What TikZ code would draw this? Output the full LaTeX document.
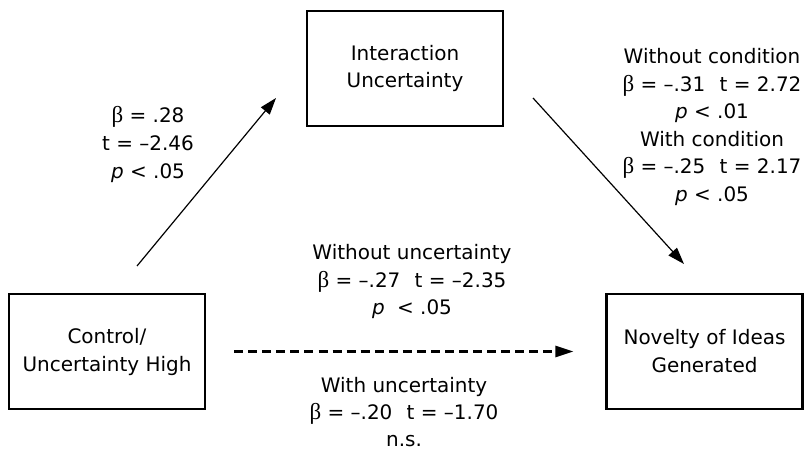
\documentclass[tikz,border=0pt]{standalone}
\usepackage{fontspec}
\setmainfont{DejaVu Sans}
\newfontfamily\greekfont[Scale=1.15]{Liberation Serif}
\usetikzlibrary{arrows.meta}
\newcommand{\betaSym}{{\greekfont β}}

\begin{document}
\begin{tikzpicture}[boxStyle/.style={rectangle, draw, line width=1.7pt, minimum width=4.9cm, minimum height=2.875cm, align=center, font=\fontsize{14.2}{19.9}\selectfont},
                    labelStyle/.style={align=center, font=\fontsize{14.2}{19.6}\selectfont},
                    arrowStyle/.style={line width=0.85pt, -{Triangle[length=0.42cm, width=0.28cm]}}]
  \useasboundingbox (0,0) rectangle (20.1,-11.35);

  \node[boxStyle](ctrl) at (2.675, -8.7875) {Control/\\Uncertainty High};
  \node[boxStyle](inter) at (10.125, -1.7125) {Interaction\\Uncertainty};
  \node[boxStyle](novelty) at (17.6125, -8.7875) {Novelty of Ideas\\Generated};

  \node[labelStyle](pathA) at (3.7, -3.6125) {\betaSym{} = .28\\t = –2.46\\\textit{p} < .05};
  \node[labelStyle](pathB) at (17.8, -3.175) {Without condition\\\betaSym{} = –.31\hspace{0.4em} t = 2.72\\\textit{p} < .01\\With condition\\\betaSym{} = –.25\hspace{0.4em} t = 2.17\\\textit{p} < .05};
  \node[labelStyle](directTop) at (10.3, -7.0375) {Without uncertainty\\\betaSym{} = –.27\hspace{0.4em} t = –2.35\\\textit{p}\hspace{0.3em} < .05};
  \node[labelStyle, font=\fontsize{14.2}{19}\selectfont](directBottom) at (10.1, -10.3) {With uncertainty\\\betaSym{} = –.20\hspace{0.4em} t = –1.70\\n.s.};

  \coordinate (ctrlOut) at (3.425, -6.65);
  \coordinate (interIn) at (6.9, -2.45);
  \coordinate (interOut) at (13.325, -2.45);
  \coordinate (noveltyIn) at (17.1, -6.6);

  \draw[arrowStyle] (ctrlOut) -- (interIn);
  \draw[arrowStyle] (interOut) -- (noveltyIn);
  \draw[line width=1.6pt, dash pattern=on 6.4pt off 3.6pt, -{Triangle[length=0.45cm, width=0.28cm]}, shorten <=0.7cm, shorten >=0.8cm] (ctrl.east) -- (novelty.west);
\end{tikzpicture}
\end{document}
